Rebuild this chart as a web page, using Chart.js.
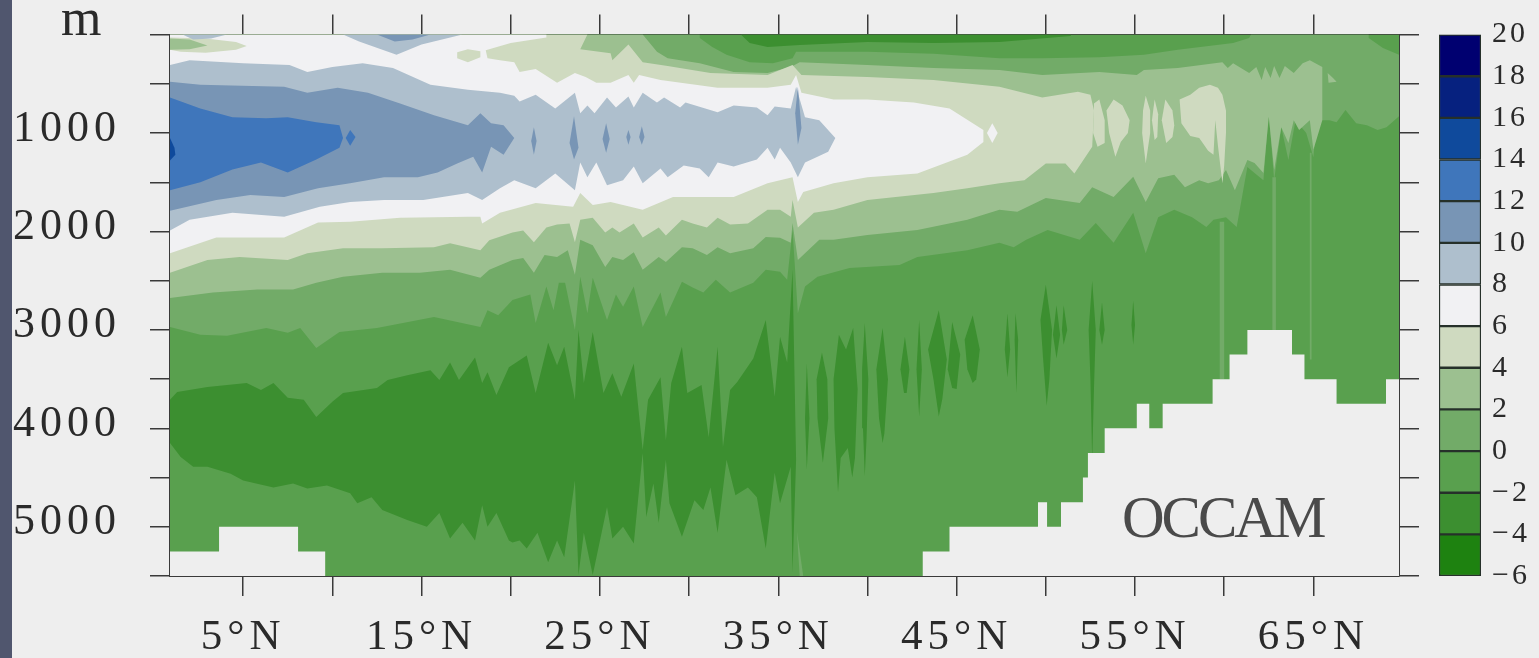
<!DOCTYPE html>
<html>
<head>
<meta charset="utf-8">
<title>OCCAM</title>
<script src="https://cdn.jsdelivr.net/npm/chart.js@4"></script>
<style>
  html, body { margin: 0; height: 100%; background: #eeeeee; overflow: hidden; }
  #strip { position: absolute; left: 0; top: 0; width: 12px; height: 658px; background: #50566e; }
  #section { position: absolute; left: 0; top: 0; }
  #scale { position: absolute; left: 1420px; top: 0; }
  .label { position: absolute; font-family: "Liberation Serif", serif; color: #2a2a2a; line-height: 1; }
  #unit { left: 61px; top: -8px; font-size: 52px; }
  #model { left: 1122px; top: 488px; font-size: 59px; letter-spacing: -3px; color: #4a4a4a; }
</style>
</head>
<body>
<div id="strip"></div>
<canvas id="section" width="1420" height="658"></canvas>
<canvas id="scale" width="119" height="658"></canvas>
<div class="label" id="unit">m</div>
<div class="label" id="model">OCCAM</div>
<script>
// axis values
const latTicks = [5, 10, 15, 20, 25, 30, 35, 40, 45, 50, 55, 60, 65];
const depthTicks = [0, 500, 1000, 1500, 2000, 2500, 3000, 3500, 4000, 4500, 5000, 5500];
const scaleLevels = [-6, -4, -2, 0, 2, 4, 6, 8, 10, 12, 14, 16, 18, 20];
const scaleColors = ["#1e8210", "#3c8f30", "#59a04e", "#72ab68", "#9cc090", "#cfdac0", "#f1f1f3", "#aebfcd", "#7895b5", "#3f76bb", "#0f4a9c", "#06217f", "#000070"];

// contours, [latitude, depth]
const minus2Base = [[0.9,0],[69.8,0],[69.8,5500],[0.9,5500]];
const minus4Deep = [[0.9,3710],[1.3,3630],[3,3580],[5.2,3540],[6,3610],[6.7,3540],[7.5,3690],[8.4,3710],[9.1,3885],[10,3730],[10.6,3640],[12.5,3590],[13.1,3510],[14.2,3460],[15.5,3410],[16,3510],[16.6,3330],[17.1,3510],[18,3280],[18.4,3540],[18.7,3430],[19.2,3660],[19.9,3380],[20.9,3260],[21.4,3640],[22.1,3130],[22.6,3360],[23,3170],[23.6,3710],[23.8,3000],[24.1,3540],[24.6,3020],[25.2,3640],[25.7,3440],[26.2,3680],[26.9,3340],[27.4,4220],[27.7,3710],[28.4,3480],[28.7,4120],[29,3540],[29.6,3170],[29.9,3640],[30.7,3560],[31.1,4090],[31.6,3170],[31.9,4190],[32.3,3610],[32.7,3530],[33.6,3290],[34.3,2900],[34.8,3680],[35.1,3070],[35.5,3330],[35.8,2390],[36,4320],
  [35.8,5470],[35.7,4390],[35.1,4760],[34.8,4450],[34.3,5220],[33.8,4700],[33.3,4600],[32.6,4680],[32.1,4320],[31.6,5060],[31.2,4600],[30.8,4830],[30.3,4730],[29.6,5100],[28.9,4760],[28.7,4320],[28.3,4960],[28,4560],[27.6,4900],[27.4,4250],[26.9,5170],[26.3,5000],[25.7,5120],[25.4,4800],[24.6,5490],[24.1,5060],[23.8,5490],[23.6,4530],[23,5310],[22.6,5140],[22.1,5360],[21.5,5060],[20.9,5220],[20.5,5140],[20.1,5160],[19.9,5140],[19.2,4860],[18.7,5000],[18.4,4780],[18,5140],[17.3,4960],[16.6,5120],[16,4860],[15.3,5000],[14.2,4930],[12.8,4830],[12.2,4700],[11.4,4760],[11,4660],[9.7,4580],[8.6,4610],[7.8,4560],[6.7,4600],[5,4530],[4.3,4460],[3,4390],[2.2,4390],[1.5,4290],[0.9,4150]];
const minus4Blobs = [
  [[36.6,3340],[36.75,3900],[36.6,4420],[36.5,3900]],
  [[37.45,3230],[37.75,3500],[37.8,3900],[37.5,4350],[37.2,3900],[37.15,3500]],
  [[38.4,3050],[38.8,3200],[39.2,2980],[39.45,3600],[39.3,4300],[39.15,4500],[38.9,4200],[38.5,4300],[38.35,4650],[38.15,4000],[38.1,3500]],
  [[39.85,2930],[40.05,3500],[39.95,4100],[39.85,4490],[39.75,4000],[39.7,3400]],
  [[40.85,2980],[41.15,3500],[40.95,4050],[40.85,4150],[40.65,3900],[40.5,3400]],
  [[42.1,3070],[42.35,3400],[42.2,3640],[42.05,3640],[41.85,3400]],
  [[42.9,2900],[43.05,3400],[42.9,3880],[42.75,3400]],
  [[44,2800],[44.45,3300],[44.2,3700],[44,3880],[43.7,3500],[43.4,3200]],
  [[44.75,2920],[45.2,3250],[45,3600],[44.75,3590],[44.5,3400]],
  [[45.9,2850],[46.3,3200],[46.1,3500],[45.9,3540],[45.6,3400],[45.45,3100]],
  [[47.85,2830],[48,3200],[47.85,3480],[47.7,3200]],
  [[48.3,2830],[48.45,3100],[48.35,3640],[48.25,3100]],
  [[50,2540],[50.35,3000],[50.2,3500],[50.05,3770],[49.85,3300],[49.7,2900]],
  [[50.6,2750],[50.8,3050],[50.6,3290],[50.4,3050]],
  [[51,2750],[51.2,3000],[51,3150],[50.9,3000]],
  [[52.6,2500],[52.8,3000],[52.7,3600],[52.6,4330],[52.5,3500],[52.4,3000]],
  [[53.15,2720],[53.3,3000],[53.15,3150],[53,3000]],
  [[54.9,2700],[55,2950],[54.9,3150],[54.8,2950]]
];
const minus4Surface = [[32.9,0],[51.4,0],[51.4,15],[47.4,75],[43.7,85],[40,75],[36.2,105],[34.4,125],[33.4,85]];

const zeroBand = [[0.9,0],[30.6,0],[30.6,35],[31.3,125],[32.1,205],[33.4,280],[34.7,290],[35.8,240],[36,175],[38.1,175],[40,175],[41.8,185],[43.7,195],[47.4,240],[49.8,240],[53,230],[55.5,205],[57.4,155],[60.5,85],[61.4,35],[61.5,0],[68.1,0],[68.1,35],[68.9,135],[69.8,205],[69.8,830],
  [69.1,940],[68.6,970],[68,920],[67.4,900],[66.8,765],[66.3,890],[65.9,870],[65.5,870],[65.2,835],[65,1245],[64.6,1000],[64,870],[63.6,1275],[63.2,940],[62.8,1480],[62.5,795],[62.2,1480],[61.7,1405],[61.3,1345],[60.7,1955],[60.1,1855],[59.4,1880],[59,1955],[58.2,1855],[57.2,1780],[56.3,1855],[55.6,2220],[54.9,1810],[53.8,2115],[52.8,1915],[51.9,2085],[50.1,1985],[48.9,2085],[48.2,2160],[47.4,2115],[45.6,2190],[42.8,2260],[41.8,2340],[39,2370],[37.2,2460],[36.5,2560],[36.1,2830],[35.8,1985],[35.5,2490],[35.1,2410],[34.3,2390],[33.6,2520],[32.3,2620],[31.5,2490],[30.8,2620],[30.2,2570],[29.6,2510],[28.7,2870],[28.4,2620],[27.4,2970],[26.9,2560],[26.3,2765],[25.9,2640],[25.4,2900],[24.6,2470],[24.3,2830],[23.9,2460],[23.6,3000],[23.05,2520],[22.7,2520],[22.4,2800],[22,2560],[21.4,2930],[21.1,2640],[20.1,2695],[19.3,2850],[18.7,2800],[18.3,2970],[15.7,2870],[12.5,2980],[10.4,3020],[9.1,3185],[8.2,2980],[7.5,3030],[6.3,2980],[4.1,3060],[2.6,3050],[0.9,2970]];
const zeroStripes = [
  [[59.75,1900],[60,1900],[60,3500],[59.75,3500]],
  [[62.7,1450],[62.9,1450],[62.9,3000],[62.7,3000]],
  [[64.8,1200],[64.9,1200],[64.9,3300],[64.8,3300]],
  [[36.05,5050],[36.4,5500],[36.2,5500]]
];

const twoBand = [[0.9,0],[27.4,0],[28.2,175],[28.8,240],[30.6,290],[32.5,380],[34.4,390],[35.7,330],[36.2,280],[40,310],[43.7,340],[47.4,360],[49.8,410],[53,380],[55.1,410],[55.5,360],[57.4,340],[59.9,280],[60.2,340],[60.5,290],[61.4,390],[61.8,330],[62.1,460],[62.3,330],[62.6,440],[62.8,320],[63.1,440],[63.4,320],[63.9,390],[64.4,290],[64.8,260],[65.5,330],[65.5,635],[65.5,870],
  [65,1170],[64.8,870],[64.2,970],[63.9,870],[63.6,1100],[63.2,940],[62.8,1375],[62.5,835],[62.2,1405],[61.7,1305],[61.3,1275],[60.6,1580],[60.1,1375],[59.7,1480],[59.1,1510],[58.6,1480],[57.8,1550],[57.2,1425],[56.3,1460],[55.6,1700],[54.9,1445],[53.8,1650],[52.6,1550],[51.9,1710],[50,1660],[48.4,1800],[47.4,1780],[45.6,1880],[42.8,1985],[40,2035],[38.1,2085],[37.3,2085],[36.1,2290],[35.8,1915],[35.7,2115],[35.1,2065],[34.3,2055],[33.6,2170],[32.3,2220],[31.6,2160],[31,2240],[30.2,2170],[29.6,2160],[28.7,2310],[28.3,2260],[27.4,2390],[26.9,2210],[26.3,2290],[25.7,2260],[25.3,2360],[24.6,2140],[23.9,2085],[23.6,2440],[23.2,2190],[22.6,2260],[21.9,2240],[21.3,2420],[20.7,2270],[20.1,2290],[18.8,2390],[18.3,2470],[16.6,2390],[14.9,2420],[12.8,2420],[10.6,2460],[9.1,2520],[7.8,2590],[5.8,2590],[3.3,2620],[0.9,2675]];
const twoPatch = [[65.8,390],[66.1,440],[66.3,480],[65.85,490]];

const fourBand = [[0.9,0],[24.3,0],[23.9,150],[25.6,190],[25.7,260],[26.6,100],[27.4,280],[28.8,320],[31.2,390],[34.4,410],[35.8,310],[36.3,410],[40,430],[43.7,460],[47.4,530],[49.8,640],[51.8,580],[52.5,610],[52.7,770],[52.6,1140],
  [51.6,1410],[51.1,1310],[50,1310],[48.8,1480],[47.4,1510],[45.6,1560],[43.7,1610],[40,1680],[38.1,1780],[37,1810],[36.1,1960],[35.8,1680],[35.7,1850],[35.1,1780],[34.4,1780],[33.3,1920],[32.3,1930],[31.6,1860],[31,1960],[30.2,1920],[29.6,1880],[28.7,2040],[28.3,1960],[27.4,2060],[26.9,1920],[26.1,2010],[25.7,1960],[25.3,2010],[24.6,1860],[23.9,1880],[23.6,2110],[23.3,1920],[22.6,1930],[22,1960],[21.3,2110],[20.7,1990],[20.1,2010],[18.8,2090],[18.3,2190],[16.6,2120],[15.7,2160],[12.8,2170],[10.6,2170],[8.6,2220],[7.5,2290],[4.8,2260],[3,2290],[0.9,2420]];
const fourFingers = [
  [[52.7,700],[53,660],[53.3,870],[53.3,1100],[52.9,1140],[52.65,1000]],
  [[53.4,770],[53.8,660],[54.3,720],[54.7,870],[54.6,1000],[54.2,1090],[53.9,1240],[53.55,1000]],
  [[55.6,620],[55.85,770],[55.85,1000],[55.6,1310],[55.4,1000],[55.45,770]],
  [[56.1,660],[56.3,810],[56.25,1040],[56.1,1070],[55.95,870]],
  [[56.7,660],[57.1,770],[57.2,920],[57.1,1040],[56.75,1100],[56.5,870]],
  [[57.5,660],[58.1,610],[58.6,540],[59.2,510],[59.65,540],[59.9,610],[60.1,770],[60.1,1000],[60,1330],[59.9,1510],[59.65,1130],[59.5,870],[59.4,1220],[59.1,1180],[58.6,1050],[58.1,1030],[57.6,900]]
];

const sixBand = [[0.9,0],[22,0],[22,30],[20,85],[18.6,160],[18.7,240],[19.4,260],[20.2,280],[20.5,380],[21.4,350],[22.6,490],[23.6,390],[24.2,430],[24.8,490],[25.6,490],[26.6,410],[26.9,490],[27.2,410],[28.4,460],[31.6,540],[34.4,540],[35.7,510],[36,410],[36.3,590],[38.1,660],[40,660],[42.6,690],[44.6,750],[46.5,970],
  [46.5,1090],[45.6,1220],[42.8,1410],[40,1450],[38.1,1510],[36.4,1600],[36.1,1700],[35.8,1450],[34.4,1510],[32.5,1650],[30.6,1650],[29.1,1650],[27.4,1780],[25.6,1700],[24.6,1730],[23.9,1610],[23.5,1750],[21.4,1710],[19.4,1810],[18.4,1920],[18.3,1850],[17.6,1850],[13.8,1860],[11,1900],[9.2,1910],[7.3,2060],[3.5,2060],[0.9,2220]];
const sixBlob = [[47,900],[47.3,1000],[47,1100],[46.7,1000]];

const eightBand = [[0.9,310],[2,260],[5,290],[7.6,310],[8.6,380],[10,330],[11.7,290],[13.4,340],[15.5,510],[17.6,560],[19.4,590],[20.2,620],[20.5,680],[21.4,610],[22.5,750],[23.6,590],[23.9,800],[24.3,720],[24.7,800],[25.4,640],[25.9,740],[26.6,630],[26.9,740],[27.4,590],[28.2,690],[28.6,640],[29.5,740],[29.8,690],[31.6,790],[32.5,720],[33.8,740],[34.4,820],[34.8,730],[35.7,750],[36,530],[36.5,840],[37.3,870],[38.2,1050],
  [37.8,1190],[37.2,1240],[36.5,1300],[36.1,1450],[35.7,1300],[35.1,1150],[34.8,1270],[34.4,1150],[33.8,1270],[32.5,1340],[31.6,1300],[31.1,1450],[30.6,1360],[29.7,1330],[28.8,1450],[28.4,1360],[27.4,1510],[26.9,1340],[26.3,1480],[25.4,1530],[24.8,1300],[24.3,1450],[23.9,1300],[23.6,1580],[22.5,1410],[21.4,1560],[20.2,1480],[19.4,1560],[18.4,1680],[17.6,1610],[15.1,1680],[12.9,1680],[11,1700],[9.3,1750],[7.3,1850],[4.4,1810],[2,1880],[0.9,1990]];
const tenBand = [[0.9,480],[2.6,510],[7.3,530],[8.6,590],[10.3,540],[12,590],[13.8,700],[15.7,820],[17.6,920],[18.3,800],[18.9,900],[19.6,920],[20.2,1050],
  [19.6,1220],[18.9,1140],[18.4,1400],[17.9,1240],[17,1310],[15.9,1400],[14.8,1450],[12.9,1450],[11,1510],[9.2,1560],[7.3,1650],[5.4,1630],[3.5,1680],[0.9,1790]];
const tenSlivers = [
  [[21.3,940],[21.45,1080],[21.3,1220],[21.15,1080]],
  [[23.55,830],[23.8,1150],[23.55,1270],[23.3,1100]],
  [[25.35,900],[25.55,1060],[25.35,1200],[25.15,1060]],
  [[26.6,970],[26.72,1040],[26.6,1120],[26.48,1040]],
  [[27.35,930],[27.5,1040],[27.35,1120],[27.2,1040]],
  [[36.1,530],[36.3,950],[36.1,1120],[35.95,800]]
];
const twelveBand = [[0.9,640],[2.6,750],[4.4,840],[6.3,850],[7.5,840],[9.1,890],[10.4,920],[10.6,1050],[10.4,1150],[9.1,1270],[7.5,1400],[6,1300],[4.4,1370],[2.6,1500],[0.9,1580]];
const twelveBlob = [[11,970],[11.3,1040],[11,1130],[10.75,1050]];
const fourteenBand = [[0.9,1050],[1.15,1150],[1.2,1220],[0.9,1280]];

const surfaceFour = [[0.9,30],[2.9,40],[4.6,75],[5.2,115],[4.6,155],[2.9,185],[1.5,175],[0.9,155]];
const surfaceTwo = [[0.9,40],[2,50],[3,110],[2,150],[0.9,155]];
const surfaceEight = [[1.6,0],[4.1,0],[3.2,40],[2.2,50]];
const surfaceEightMid = [[10.6,0],[17.3,0],[15,100],[13.6,205],[11.5,70]];
const surfaceTenMid = [[12.5,0],[15.5,0],[14.5,50],[13.5,70]];
const surfaceFourMid = [[17,180],[17.6,150],[18.3,170],[18.3,230],[17.6,280],[17,240]];

const seabedSouth = [[0.9,5500],[0.9,5250],[3.65,5250],[3.65,5000],[8.08,5000],[8.08,5250],[9.6,5250],[9.6,5500]];
const seabedNorth = [[43.1,5500],[43.1,5250],[44.6,5250],[44.6,5000],[49.56,5000],[49.56,4750],[50.07,4750],[50.07,5000],[50.85,5000],[50.85,4750],[52.08,4750],[52.08,4500],[52.36,4500],[52.36,4250],[53.3,4250],[53.3,4000],[55.1,4000],[55.1,3750],[55.8,3750],[55.8,4000],[56.55,4000],[56.55,3750],[59.35,3750],[59.35,3500],[60.3,3500],[60.3,3250],[61.3,3250],[61.3,3000],[63.8,3000],[63.8,3250],[64.5,3250],[64.5,3500],[66.3,3500],[66.3,3750],[69.07,3750],[69.07,3500],[69.8,3500],[69.8,5500]];

// band colours by lower level
const bandColor = {};
scaleLevels.slice(0, -1).forEach((lvl, i) => { bandColor[lvl] = scaleColors[i]; });
const seabedColor = "#eeeeee";

// painted back to front
const layers = [
  [minus2Base, bandColor[-2]],
  [minus4Deep, bandColor[-4]],
  ...minus4Blobs.map(p => [p, bandColor[-4]]),
  [minus4Surface, bandColor[-4]],
  [zeroBand, bandColor[0]],
  ...zeroStripes.map(p => [p, bandColor[0]]),
  [twoBand, bandColor[2]],
  [twoPatch, bandColor[2]],
  [fourBand, bandColor[4]],
  ...fourFingers.map(p => [p, bandColor[4]]),
  [sixBand, bandColor[6]],
  [sixBlob, bandColor[6]],
  [eightBand, bandColor[8]],
  ...tenSlivers.map(p => [p, bandColor[10]]),
  [tenBand, bandColor[10]],
  [twelveBand, bandColor[12]],
  [twelveBlob, bandColor[12]],
  [fourteenBand, bandColor[14]],
  [surfaceFour, bandColor[4]],
  [surfaceTwo, bandColor[2]],
  [surfaceEight, bandColor[8]],
  [surfaceEightMid, bandColor[8]],
  [surfaceTenMid, bandColor[10]],
  [surfaceFourMid, bandColor[4]],
  [seabedSouth, seabedColor],
  [seabedNorth, seabedColor]
];

const serif = "'Liberation Serif', serif";
const inkColor = "#2a2a2a";
const lineColor = "#3a3a3a";

// canvas text has no css letter spacing, the labels in the source are wide
const spacing = px => ({
  id: "spacing",
  beforeDraw(chart) { chart.ctx.letterSpacing = px; }
});

// fixed axis boxes so the plot area lands where it should
const fixBox = (size) => (s) => {
  if (s.isHorizontal()) s.height = size; else s.width = size;
  s.paddingTop = s.paddingBottom = s.paddingLeft = s.paddingRight = 0;
};

const tickGrid = { drawOnChartArea: false, tickLength: 20, color: lineColor, lineWidth: 1.5 };
const axisBorder = { color: lineColor, width: 2 };

new Chart(document.getElementById("section"), {
  type: "scatter",
  data: {
    datasets: layers.map(([pts, color], i) => ({
      data: pts.map(([lat, depth]) => ({ x: lat, y: depth })),
      showLine: true,
      fill: "shape",
      backgroundColor: color,
      borderWidth: 0,
      pointRadius: 0,
      tension: 0,
      order: -i
    }))
  },
  options: {
    responsive: false,
    animation: false,
    plugins: { legend: { display: false }, tooltip: { enabled: false } },
    layout: { padding: 0 },
    scales: {
      x: {
        type: "linear", position: "bottom", min: 0.9, max: 69.8,
        afterBuildTicks(s) { s.ticks = latTicks.map(v => ({ value: v })); },
        afterFit: fixBox(82),
        grid: tickGrid, border: axisBorder,
        ticks: {
          autoSkip: false, maxRotation: 0, padding: 16, color: inkColor,
          font: { family: serif, size: 43 },
          callback: v => (v % 10 === 5 ? v + "°N" : "")
        }
      },
      xTop: {
        type: "linear", position: "top", min: 0.9, max: 69.8,
        afterBuildTicks(s) { s.ticks = latTicks.map(v => ({ value: v })); },
        afterFit: fixBox(34.6),
        grid: tickGrid, border: axisBorder,
        ticks: { autoSkip: false, maxRotation: 0, callback: () => "" }
      },
      y: {
        type: "linear", position: "left", reverse: true, min: 0, max: 5500,
        afterBuildTicks(s) { s.ticks = depthTicks.map(v => ({ value: v })); },
        afterFit: fixBox(170),
        grid: tickGrid, border: axisBorder,
        ticks: {
          autoSkip: false, padding: 29, color: inkColor, labelOffset: -4,
          font: { family: serif, size: 44 },
          callback: v => (v > 0 && v % 1000 === 0 ? String(v) : "")
        }
      },
      yRight: {
        type: "linear", position: "right", reverse: true, min: 0, max: 5500,
        afterBuildTicks(s) { s.ticks = depthTicks.map(v => ({ value: v })); },
        afterFit: fixBox(21),
        grid: tickGrid, border: axisBorder,
        ticks: { autoSkip: false, padding: 0, callback: () => "" }
      }
    }
  },
  plugins: [spacing("5px")]
});

// colour key
new Chart(document.getElementById("scale"), {
  type: "bar",
  data: {
    labels: [""],
    datasets: scaleColors.map((color, i) => ({
      data: [[scaleLevels[i], scaleLevels[i + 1]]],
      backgroundColor: color,
      borderColor: "#26302a",
      borderWidth: 1.5,
      borderSkipped: false
    }))
  },
  options: {
    responsive: false,
    animation: false,
    plugins: { legend: { display: false }, tooltip: { enabled: false } },
    layout: { padding: { top: 34.6, bottom: 82, left: 19 } },
    datasets: { bar: { grouped: false, barPercentage: 1, categoryPercentage: 1 } },
    scales: {
      x: { display: false },
      y: {
        position: "right", min: -6, max: 20,
        afterBuildTicks(s) { s.ticks = scaleLevels.map(v => ({ value: v })); },
        afterFit: fixBox(58),
        grid: { display: false }, border: { display: false },
        ticks: {
          autoSkip: false, padding: 3, color: inkColor,
          font: { family: serif, size: 30 },
          callback: v => String(v).replace("-", "−")
        }
      }
    }
  },
  plugins: [spacing("3px")]
});
</script>
</body>
</html>
